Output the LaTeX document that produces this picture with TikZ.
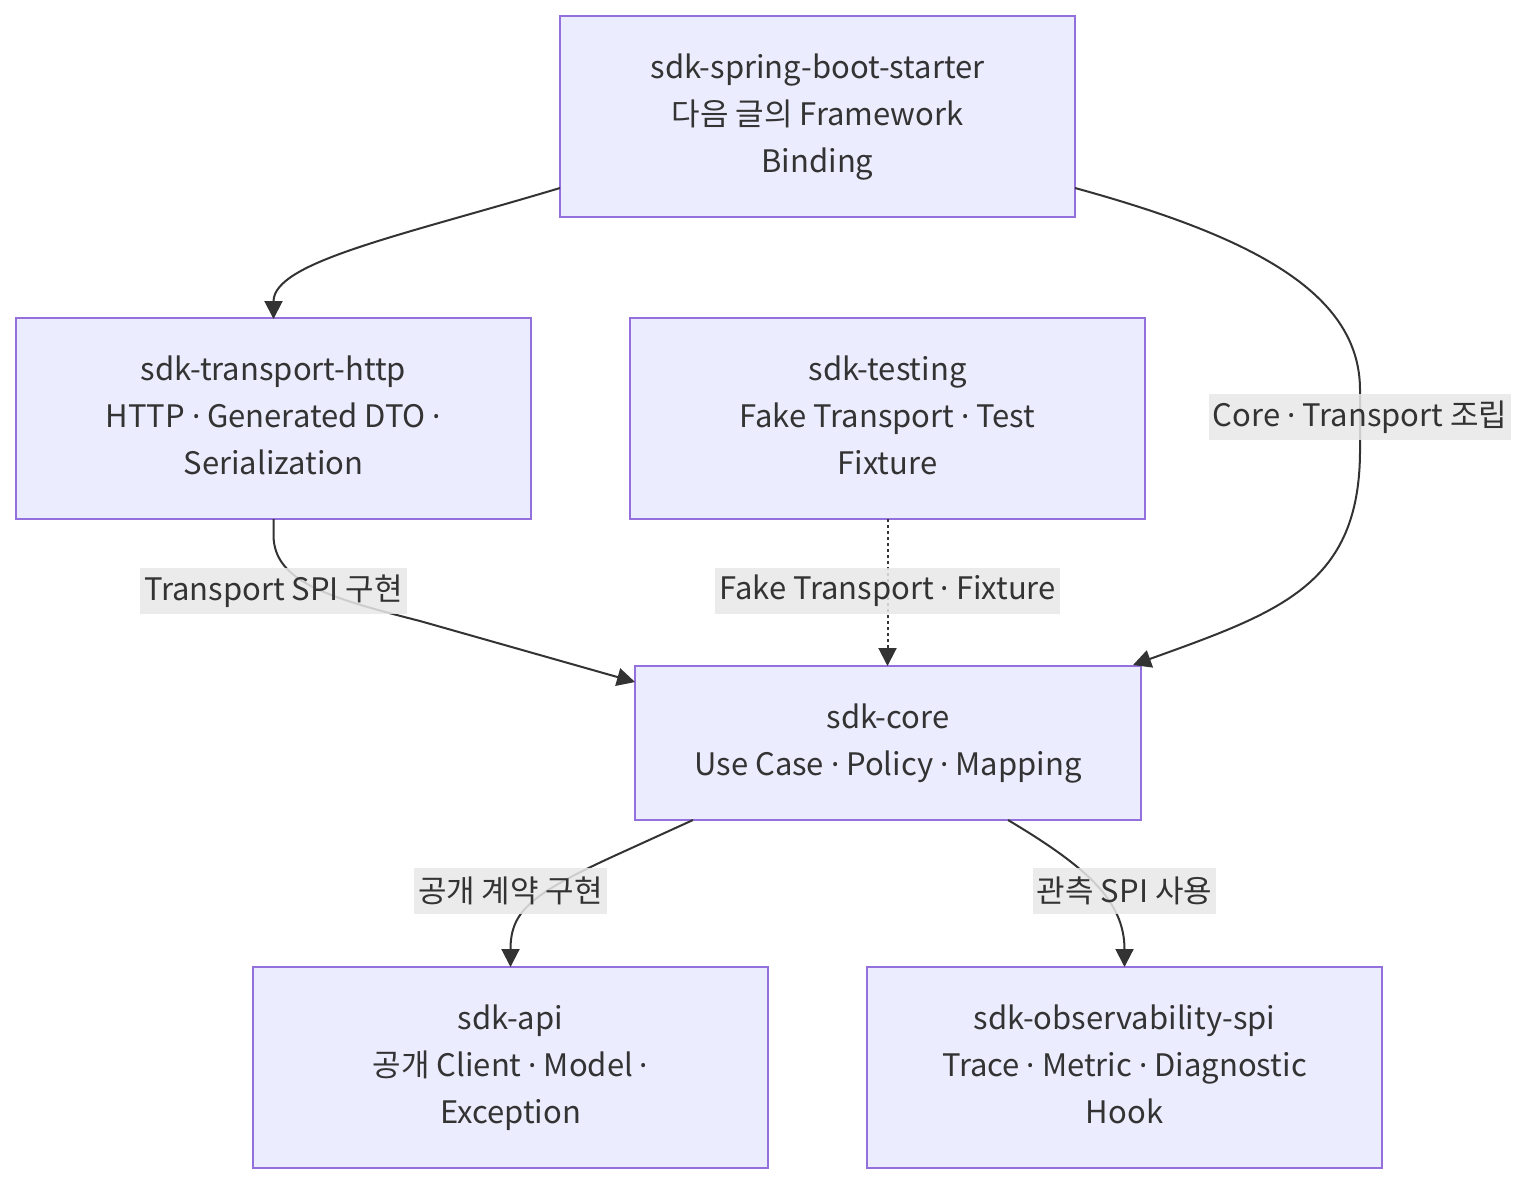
\documentclass[tikz,border=0pt]{standalone}
\usepackage{fontspec}
\setmainfont{Noto Sans CJK KR}
\newfontfamily\latinfont{Noto Sans}
\newcommand\mdot{{\latinfont\char"00B7}}
\newcommand\bxt[1]{\raisebox{-1.5pt}{\begin{tabular}{@{}c@{}}#1\end{tabular}}}
\usetikzlibrary{arrows.meta}
\definecolor{boxfill}{HTML}{ECECFF}
\definecolor{boxline}{HTML}{9370DB}
\definecolor{edgecol}{HTML}{333333}
\definecolor{lblfill}{HTML}{E8E8E8}
\begin{document}
\begin{tikzpicture}[x=0.5pt,y=-0.5pt,
  box/.style={draw=boxline,fill=boxfill,line width=1pt,minimum width=257.5pt,minimum height=100.5pt,
    align=center,text=edgecol,font=\fontsize{15.5}{23.5}\selectfont,inner sep=0pt},
  lbl/.style={fill=lblfill,fill opacity=0.85,text opacity=1,text=edgecol,inner sep=2pt,
    minimum height=23pt,font=\fontsize{15.5}{23.5}\selectfont},
  edge/.style={draw=edgecol,line width=1pt,-{Triangle[length=9pt,width=9pt]}}]
\useasboundingbox (0,0) rectangle (1540,1196);
\node[box] (A) at (817.5,116.5) {\bxt{sdk-spring-boot-starter\\다음 글의 Framework\\Binding}};
\node[box] (B) at (273.5,418.5) {\bxt{sdk-transport-http\\HTTP \mdot{} Generated DTO \mdot\\Serialization}};
\node[box] (C) at (887.5,418.5) {\bxt{sdk-testing\\Fake Transport \mdot{} Test\\Fixture}};
\node[box,minimum width=253pt,minimum height=77pt] (D) at (888,743) {\bxt{sdk-core\\Use Case \mdot{} Policy \mdot{} Mapping}};
\node[box] (E) at (510.5,1067.5) {\bxt{sdk-api\\공개 Client \mdot{} Model \mdot\\Exception}};
\node[box] (F) at (1124.5,1067.5) {\bxt{sdk-observability-spi\\Trace \mdot{} Metric \mdot{} Diagnostic\\Hook}};
\coordinate (a1) at (560,188);
\coordinate (a2) at (1075,188);
\coordinate (b1) at (273.5,319);
\coordinate (b2) at (273.5,519);
\coordinate (c1) at (887.5,519);
\coordinate (d1) at (887.5,666);
\coordinate (d2) at (635,682);
\coordinate (d3) at (1133,665);
\coordinate (d4) at (693,820);
\coordinate (d5) at (1008,820);
\coordinate (e1) at (510.5,967);
\coordinate (f1) at (1124.5,967);
\draw[edge] (a1) .. controls (400,236) and (273.5,262) .. (b1);
\draw[edge] (a2) .. controls (1250,236) and (1360,292) .. (1360,390) -- (1360,450) .. controls (1360,585) and (1280,612) .. (d3);
\draw[edge] (b2) -- (273.5,535) .. controls (273.5,582) and (330,598) .. (420,621) -- (d2);
\draw[edge,dash pattern=on 1.5pt off 1.5pt] (c1) -- (d1);
\draw[edge] (d4) -- (625,851) .. controls (532,893) and (510.5,910) .. (e1);
\draw[edge] (d5) .. controls (1085,866) and (1124.5,900) .. (f1);
\node[lbl] (l1) at (1360,417) {Core \mdot{} Transport 조립};
\node[lbl] (l2) at (273.5,591) {Transport SPI 구현};
\node[lbl] (l3) at (887.5,591) {Fake Transport \mdot{} Fixture};
\node[lbl] (l4) at (510.5,891) {공개 계약 구현};
\node[lbl] (l5) at (1124.5,891) {관측 SPI 사용};
\end{tikzpicture}
\end{document}
